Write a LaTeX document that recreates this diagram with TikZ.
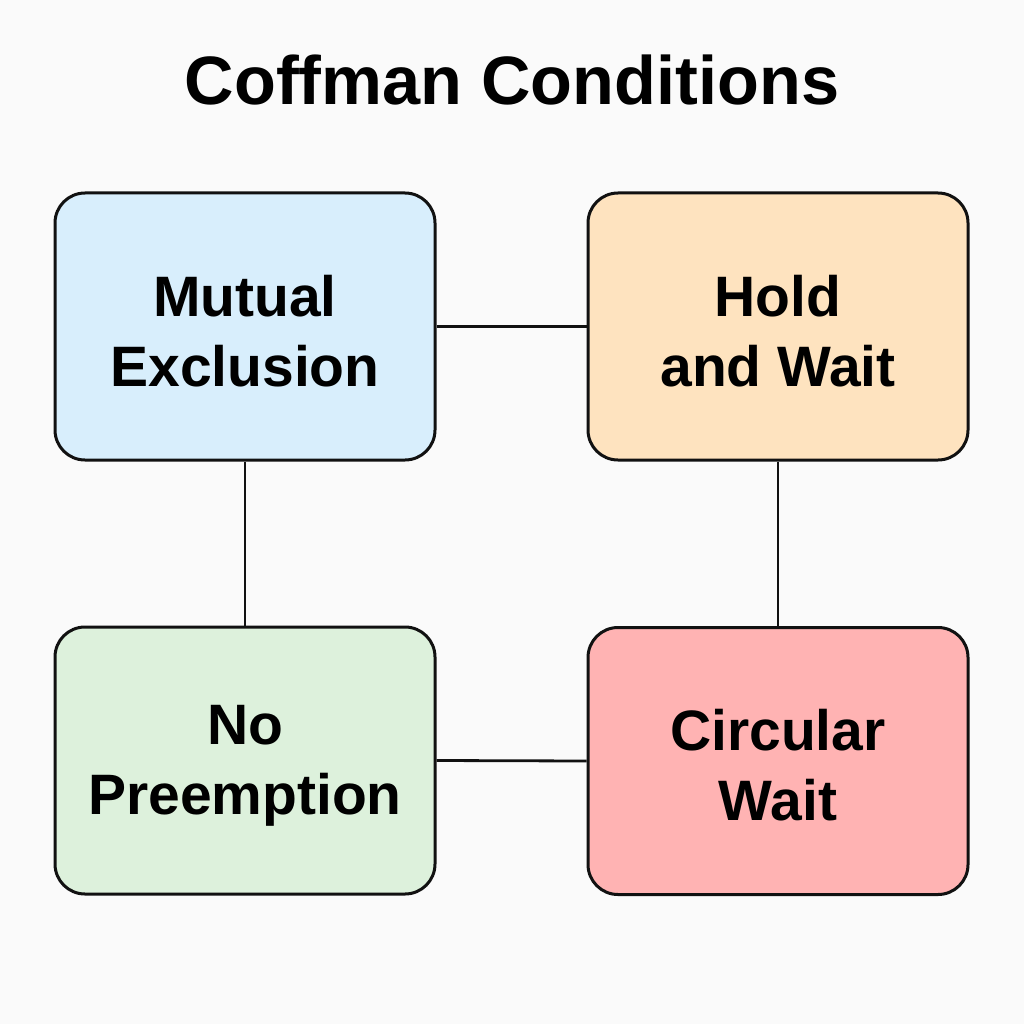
\documentclass[tikz,border=0pt]{standalone}
\usepackage{fontspec}
\setmainfont{Liberation Sans}
\definecolor{bgc}{HTML}{FAFAFA}
\definecolor{cblue}{HTML}{D8EEFC}
\definecolor{corange}{HTML}{FEE3BF}
\definecolor{cgreen}{HTML}{DDF1DC}
\definecolor{cred}{HTML}{FFB3B3}
\definecolor{ink}{HTML}{111111}
\newcommand{\topfix}{\rule{0pt}{50pt}}
\begin{document}
\begin{tikzpicture}[x=1pt,y=-1pt,
  cond/.style={draw=ink, line width=3pt, rounded corners=30pt, rectangle,
    minimum width=380pt, minimum height=267pt, inner sep=0pt, align=center,
    font=\fontsize{57}{70}\selectfont\bfseries, text=black},
  link/.style={draw=ink, line width=2.8pt}]
\fill[bgc] (0,0) rectangle (1024,1024);
\useasboundingbox (0,0) rectangle (1024,1024);
\node[font=\fontsize{68.5}{80}\selectfont\bfseries, anchor=base] (title) at (512,105) {Coffman Conditions};
\node[cond, fill=cblue] (me) at (245,326.5) {\topfix Mutual\\Exclusion};
\node[cond, fill=corange] (hw) at (778,326.5) {\topfix Hold\\and Wait};
\node[cond, fill=cgreen] (np) at (245,760.5) {\topfix No\\Preemption};
\node[cond, fill=cred] (cw) at (778,761) {\topfix Circular\\Wait};
\draw[link] (me.east) -- (hw.west);
\draw[link] (np.east) -- (cw.west);
\draw[link] (me.south) -- (np.north);
\draw[link] (hw.south) -- (cw.north);
\end{tikzpicture}
\end{document}
